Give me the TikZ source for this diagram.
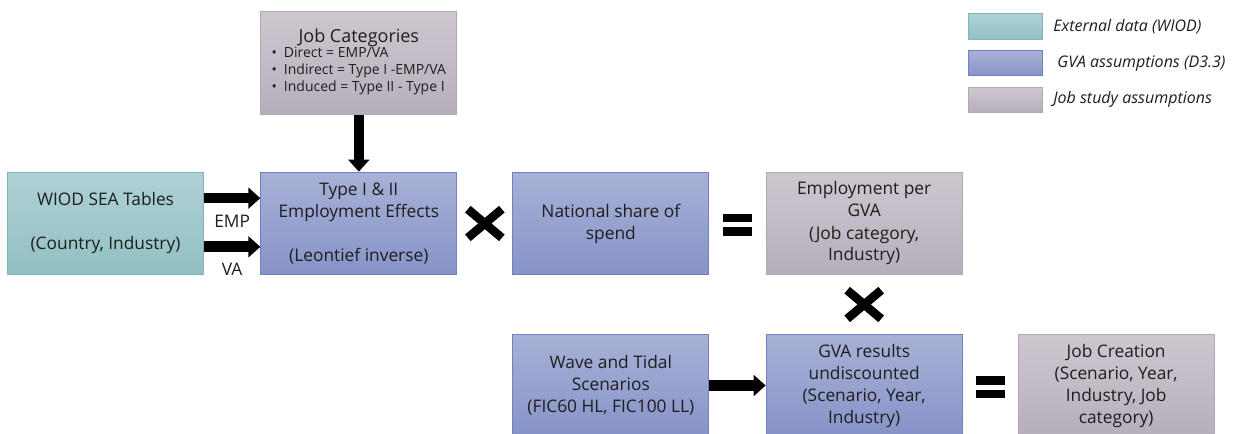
\documentclass[tikz,border=0pt]{standalone}
\usepackage{fontspec}
\setmainfont{Open Sans}
\usetikzlibrary{shapes.misc,arrows.meta,calc}
\definecolor{tealtop}{RGB}{174,209,212}
\definecolor{tealbot}{RGB}{146,192,196}
\definecolor{tealline}{RGB}{128,180,186}
\definecolor{bluetop}{RGB}{168,177,214}
\definecolor{bluebot}{RGB}{134,147,200}
\definecolor{blueline}{RGB}{112,128,192}
\definecolor{mauvetop}{RGB}{206,199,208}
\definecolor{mauvebot}{RGB}{183,174,187}
\definecolor{mauveline}{RGB}{176,168,180}
\definecolor{inktext}{RGB}{30,30,30}
\tikzstyle{block} = [rectangle, draw, line width=0.75pt, text=inktext, align=center,
    minimum width=147pt, minimum height=77pt, inner sep=2pt,
    font=\fontsize{13}{16.5}\selectfont]
\tikzstyle{extdata} = [block, draw=tealline, top color=tealtop, bottom color=tealbot]
\tikzstyle{gvablock} = [block, draw=blueline, top color=bluetop, bottom color=bluebot]
\tikzstyle{jobblock} = [block, draw=mauveline, top color=mauvetop, bottom color=mauvebot]
\tikzstyle{fatline} = [draw, line width=8pt, -{Triangle[length=9pt,width=15.5pt]}]
\tikzstyle{fatlabel} = [text=inktext, font=\fontsize{13}{16.5}\selectfont]
\tikzstyle{times} = [cross out, draw, line width=6.5pt, minimum width=19pt,
    minimum height=15pt, inner sep=0pt]
\tikzstyle{eqbar} = [rectangle, fill=black, minimum width=22pt, minimum height=6.5pt, inner sep=0pt]
\tikzstyle{legendbox} = [rectangle, line width=0.75pt, minimum width=56pt, minimum height=19pt]
\tikzstyle{legendtext} = [anchor=west, text=inktext, font=\fontsize{12}{14}\selectfont\itshape]

\begin{document}
\begin{tikzpicture}[x=0.75pt, y=-0.75pt, node distance=190pt]
    \useasboundingbox (0,0) rectangle (1243,434);
    % Place nodes
    \node [extdata] (wiod) at (105.5,223.5) {WIOD SEA Tables\\[16.5pt](Country, Industry)};
    \node [gvablock, right of=wiod] (typeii) {Type I \& II\\Employment Effects\\[16.5pt](Leontief inverse)};
    \node [jobblock, above of=typeii, node distance=120.5pt] (jobcat) {{\fontsize{13.5}{16}\selectfont Job Categories}\\[-2pt]
        \fontsize{10.5}{12.8}\selectfont
        \begin{tabular}{@{}l@{}}
        \textbullet\enspace Direct = EMP/VA\\
        \textbullet\enspace Indirect = Type I -EMP/VA\\
        \textbullet\enspace Induced = Type II - Type I
        \end{tabular}};
    \node [gvablock, right of=typeii, node distance=189pt] (natshare) {National share of\\spend};
    \node [jobblock, right of=natshare] (emppergva) {Employment per\\GVA\\(Job category,\\Industry)};
    \node [gvablock, below of=natshare, node distance=121.5pt] (wave) {Wave and Tidal\\Scenarios\\(FIC60 HL, FIC100 LL)};
    \node [gvablock, right of=wave] (gvares) {GVA results\\undiscounted\\(Scenario, Year,\\Industry)};
    \node [jobblock, right of=gvares, node distance=189pt] (jobcreation) {Job Creation\\(Scenario, Year,\\Industry, Job\\category)};
    % Operators
    \node [times] (mulone) at ($(typeii.east)!0.5!(natshare.west)$) {};
    \node [times] (multwo) at ($(emppergva.south)!0.5!(gvares.north)$) {};
    \node [eqbar, yshift=4pt] (eqonea) at ($(natshare.east)!0.5!(emppergva.west)$) {};
    \node [eqbar, yshift=-6pt] (eqoneb) at ($(natshare.east)!0.5!(emppergva.west)$) {};
    \node [eqbar, yshift=3.5pt] (eqtwoa) at ($(gvares.east)!0.5!(jobcreation.west)$) {};
    \node [eqbar, yshift=-6.5pt] (eqtwob) at ($(gvares.east)!0.5!(jobcreation.west)$) {};
    % Legend
    \node [legendbox, draw=tealline, top color=tealtop, bottom color=tealbot] (lgext) at (1005.5,26.5) {};
    \node [legendbox, draw=blueline, top color=bluetop, bottom color=bluebot, below of=lgext, node distance=27.5pt] (lggva) {};
    \node [legendbox, draw=mauveline, top color=mauvetop, bottom color=mauvebot, below of=lggva, node distance=27.5pt] (lgjob) {};
    \node [legendtext] (lgexttext) at ([xshift=4pt]lgext.east) {External data (WIOD)};
    \node [legendtext] (lggvatext) at ([xshift=7pt]lggva.east) {GVA assumptions (D3.3)};
    \node [legendtext] (lgjobtext) at ([xshift=4pt]lgjob.east) {Job study assumptions};
    % Draw edges
    \path [fatline] ([yshift=19pt]wiod.east) -- node [fatlabel, yshift=-17pt] {EMP} ([yshift=19pt]typeii.west);
    \path [fatline] ([yshift=-17.5pt]wiod.east) -- node [fatlabel, yshift=-16.5pt] {VA} ([yshift=-17.5pt]typeii.west);
    \path [fatline] (jobcat) -- (typeii);
    \path [fatline] (wave) -- (gvares);
\end{tikzpicture}
\end{document}
